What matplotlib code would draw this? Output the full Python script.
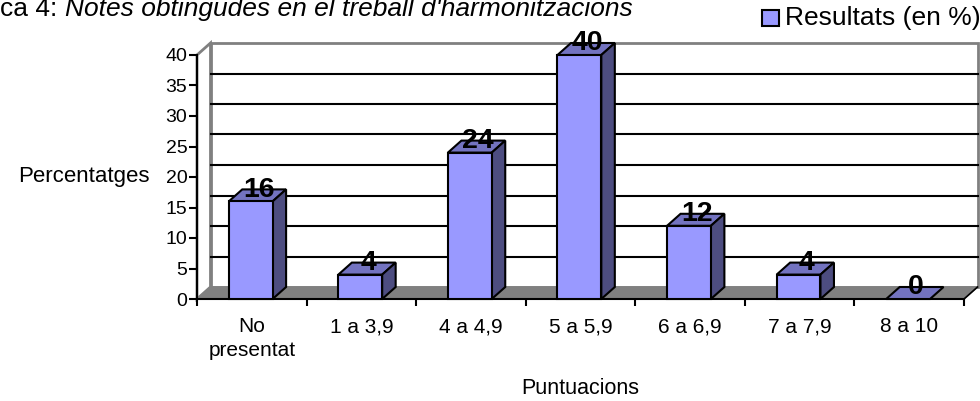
import numpy as np
import matplotlib.pyplot as plt
from matplotlib.patches import Polygon

plt.rcParams['font.family'] = ['Liberation Sans', 'DejaVu Sans']

categories = ["No\npresentat", "1 a 3,9", "4 a 4,9", "5 a 5,9", "6 a 6,9", "7 a 7,9", "8 a 10"]
values = [16, 4, 24, 40, 12, 4, 0]
yticks = [0, 5, 10, 15, 20, 25, 30, 35, 40]

W, H = 980, 401
fig = plt.figure(figsize=(W / 100, H / 100), dpi=100)
# front plane of the 3d box
x0, x1, y0, y1 = 197, 964, 299, 55
ax = fig.add_axes([x0 / W, 1 - y0 / H, (x1 - x0) / W, (y0 - y1) / H])
n = len(values)
ax.set_xlim(0, n)
ax.set_ylim(0, 40)

# depth offset in data units
dx = 13.5 / ((x1 - x0) / n)
dy = 12 / ((y0 - y1) / 40)

wall = '#808080'
front = '#9999FF'
top_c = '#7373C0'
side_c = '#4D4D80'

# back wall
ax.add_patch(Polygon([(dx, dy), (n + dx, dy), (n + dx, 40 + dy), (dx, 40 + dy)],
                     closed=True, fc='white', ec=wall, lw=2, clip_on=False, zorder=1))
# side wall
ax.add_patch(Polygon([(0, 0), (dx, dy), (dx, 40 + dy), (0, 40)],
                     closed=True, fc='white', ec=wall, lw=2, clip_on=False, zorder=1))
# gridlines on back wall
for t in yticks[1:-1]:
    ax.plot([dx, n + dx], [t + dy, t + dy], color='black', lw=1.5, clip_on=False, zorder=2)
# floor
ax.add_patch(Polygon([(0, 0), (n, 0), (n + dx, dy), (dx, dy)],
                     closed=True, fc=wall, ec=wall, lw=1, clip_on=False, zorder=2))
ax.plot([n, n + dx], [0, dy], color='black', lw=1.2, clip_on=False, zorder=2)

# bars
bw = 0.4
xs = np.arange(n) + 0.49
for x, v in zip(xs, values):
    l, r = x - bw / 2, x + bw / 2
    ax.add_patch(Polygon([(l, v), (r, v), (r + dx, v + dy), (l + dx, v + dy)],
                         closed=True, fc=top_c, ec='black', lw=1.5, clip_on=False, zorder=4))
    if v > 0:
        ax.add_patch(Polygon([(r, 0), (r + dx, dy), (r + dx, v + dy), (r, v)],
                             closed=True, fc=side_c, ec='black', lw=1.5, clip_on=False, zorder=4))
        ax.bar(x, v, width=bw, color=front, edgecolor='black', lw=1.5, zorder=5, clip_on=False)
    ax.text(x + dx * 0.6, v + 1.9, str(v), ha='center', va='center',
            fontsize=20.5, fontweight='bold', zorder=6, clip_on=False)

ax.set_facecolor('none')
for s in ['top', 'right']:
    ax.spines[s].set_visible(False)
ax.spines['left'].set_linewidth(1.5)
ax.spines['bottom'].set_linewidth(1.5)
ax.spines['left'].set_zorder(3)
ax.spines['bottom'].set_zorder(3)

ax.set_yticks(yticks)
ax.tick_params(axis='y', direction='out', length=6, width=1.5, labelsize=14, pad=1)
ax.set_xticks(np.arange(n + 1))
ax.set_xticklabels([])
ax.tick_params(axis='x', which='major', direction='out', length=5, width=1.5)
ax.set_xticks(np.arange(n) + 0.5, minor=True)
ax.set_xticklabels(categories, minor=True, fontsize=15, linespacing=1.3)
ax.tick_params(axis='x', which='minor', length=0, pad=13)

fig.text(150 / W, 1 - 177 / H, "Percentatges", ha='right', va='center', fontsize=16)
fig.text(580 / W, 1 - 389 / H, "Puntuacions", ha='center', va='center', fontsize=15.5)

fig.text(0, 1 - 16 / H, "ca 4: ", ha='left', va='baseline', fontsize=19)
fig.text(65 / W, 1 - 16 / H, "Notes obtingudes en el treball d'harmonitzacions",
         ha='left', va='baseline', fontsize=19, style='italic')

# legend
fig.patches.append(Polygon([(762 / W, 1 - 10 / H), (779 / W, 1 - 10 / H),
                            (779 / W, 1 - 26 / H), (762 / W, 1 - 26 / H)],
                           closed=True, fc=front, ec='black', lw=1.5,
                           transform=fig.transFigure))
fig.text(785 / W, 1 - 18 / H, "Resultats (en %)", ha='left', va='center', fontsize=19)

fig.savefig("out.png", dpi=100)
